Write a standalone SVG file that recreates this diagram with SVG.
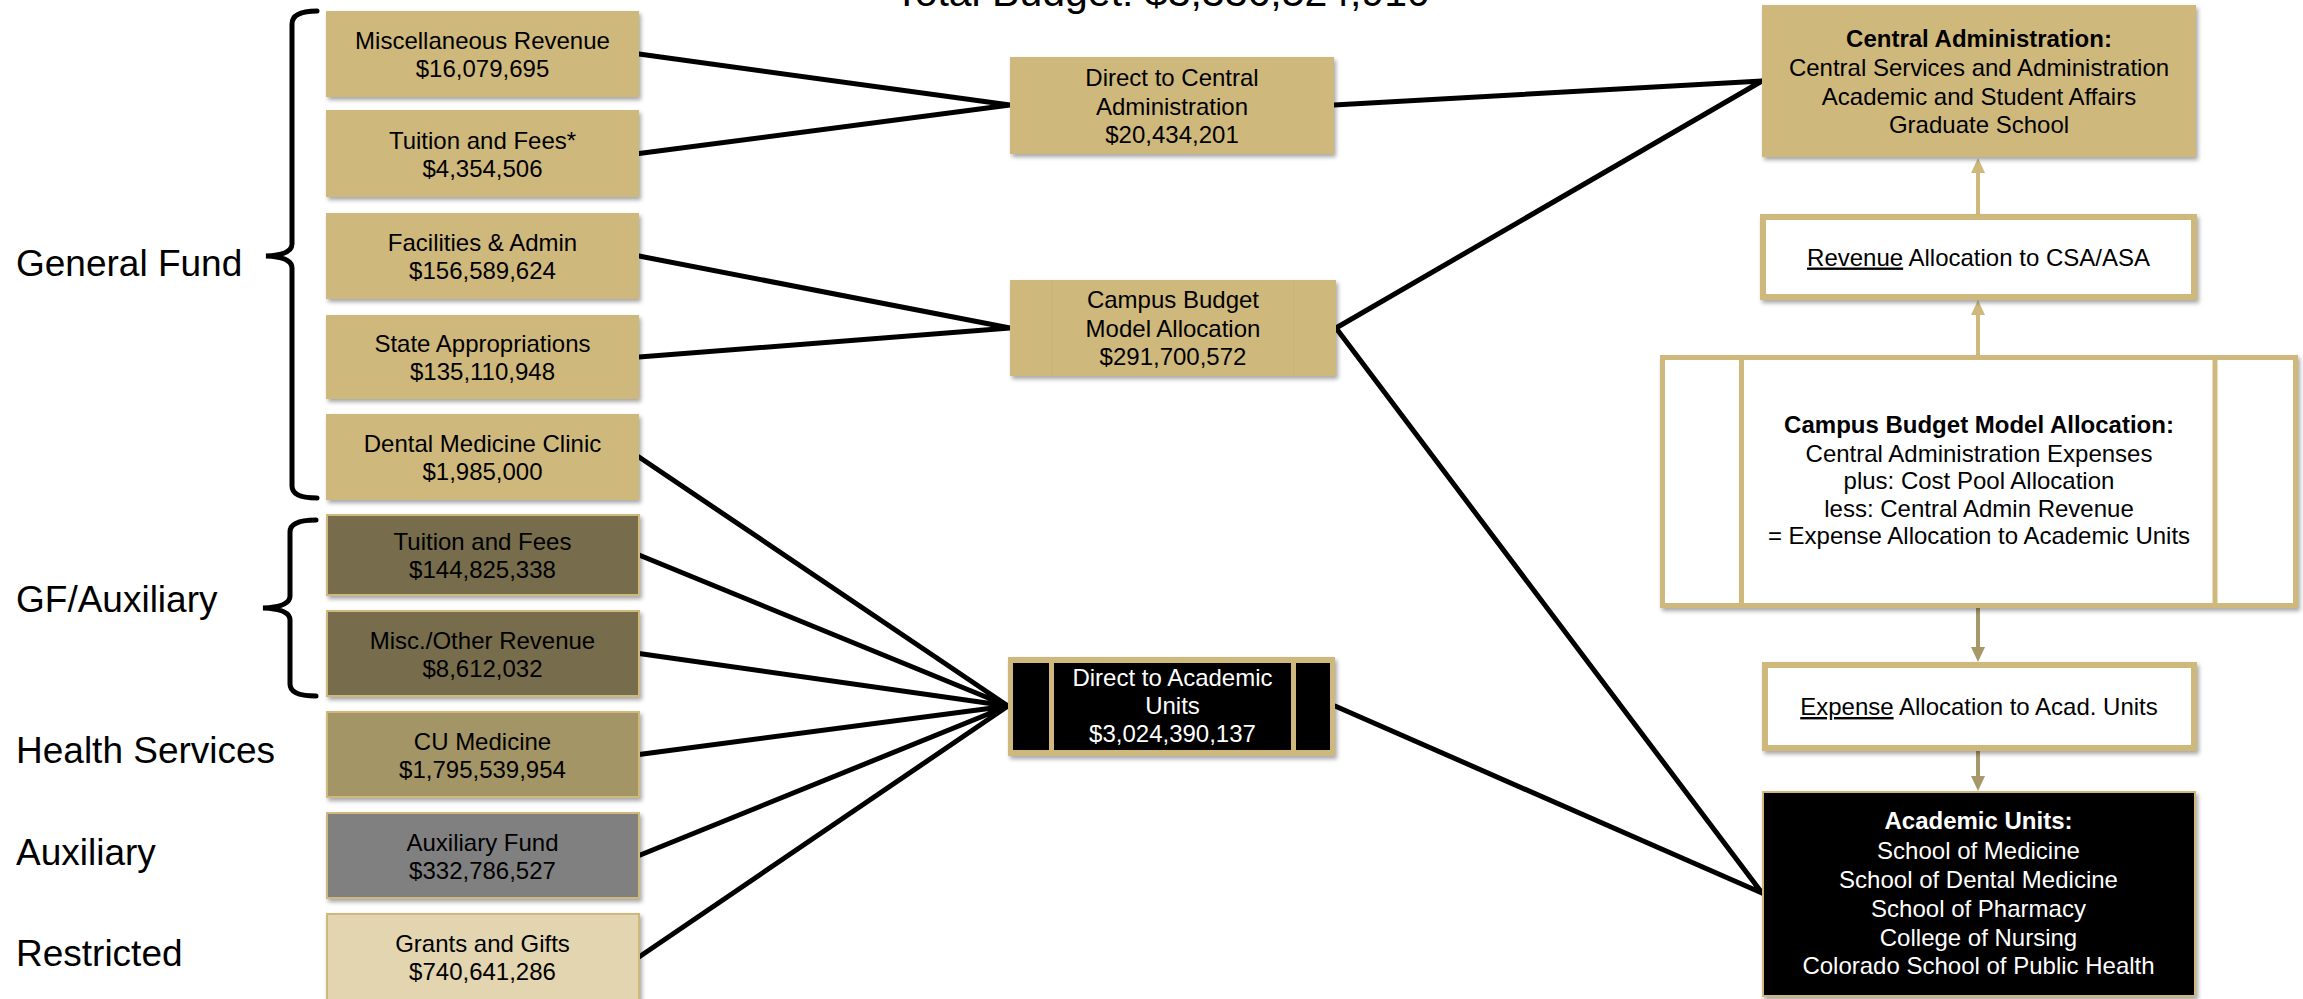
<svg xmlns="http://www.w3.org/2000/svg" width="2303" height="999" viewBox="0 0 2303 999">
<style>
text{font-family:"Liberation Sans",Arial,sans-serif;fill:#000}
.lbl{font-size:37px}
.bt{font-size:24px;text-anchor:middle}
.w{fill:#fff}
.b{font-weight:bold}
.gold{fill:#CFB87C}
.dark{fill:#776C4B;stroke:#CFB87C;stroke-width:2}
.med{fill:#A39565;stroke:#CFB87C;stroke-width:2}
.gray{fill:#808080;stroke:#CFB87C;stroke-width:2}
.lt{fill:#E2D5AF;stroke:#CFB87C;stroke-width:2}
.frame{fill:#fff;stroke:#CFB87C;stroke-width:6}
.conn{stroke:#000;stroke-width:5;fill:none;stroke-linecap:round}
.brace{stroke:#000;stroke-width:5;fill:none;stroke-linecap:round}
.up{stroke:#CFB87C;stroke-width:4;fill:none}
.down{stroke:#A69868;stroke-width:4;fill:none}
</style>
<defs>
<filter id="sh" x="-5%" y="-5%" width="115%" height="125%">
<feDropShadow dx="2" dy="3" stdDeviation="2" flood-color="#000" flood-opacity="0.35"/>
</filter>
<marker id="ahL" markerUnits="userSpaceOnUse" markerWidth="15" markerHeight="14" refX="0" refY="7" orient="auto" viewBox="0 0 15 14"><path d="M0 0 L15 7 L0 14 Z" fill="#CFB87C"/></marker>
<marker id="ahD" markerUnits="userSpaceOnUse" markerWidth="15" markerHeight="14" refX="0" refY="7" orient="auto" viewBox="0 0 15 14"><path d="M0 0 L15 7 L0 14 Z" fill="#A69868"/></marker>
</defs>
<rect width="2303" height="999" fill="#fff"/>

<text x="1162" y="6" style="font-size:41px;text-anchor:middle">Total Budget: $3,336,524,910</text>

<g id="labels">
<text class="lbl" x="16" y="276">General Fund</text>
<text class="lbl" x="16" y="612">GF/Auxiliary</text>
<text class="lbl" x="16" y="763">Health Services</text>
<text class="lbl" x="16" y="865">Auxiliary</text>
<text class="lbl" x="16" y="966">Restricted</text>
<path class="brace" d="M317 11 Q292 11 292 24 L292 244 Q292 255 266 256 Q292 257 292 268 L292 486 Q292 498 317 498"/>
<path class="brace" d="M316 520 Q290 520 290 532 L290 596 Q290 607 263 608 Q290 609 290 620 L290 684 Q290 696 316 696"/>
</g>

<g id="connectors">
<path class="conn" d="M639 54 L1010 105 M639 153.5 L1010 105"/>
<path class="conn" d="M639 256 L1010 328 M639 357 L1010 328"/>
<path class="conn" d="M639 457 L1008 706 M639 555 L1008 706 M639 653.5 L1008 706 M639 754.5 L1008 706 M639 855.5 L1008 706 M639 957 L1008 706"/>
<path class="conn" d="M1334 105 L1762 81 M1336 328 L1762 81 M1336 328 L1762 893 M1335 706 L1762 893"/>
<path class="up" d="M1978 214 L1978 173" marker-end="url(#ahL)"/>
<path class="up" d="M1978 355 L1978 315" marker-end="url(#ahL)"/>
<path class="down" d="M1978 608 L1978 647" marker-end="url(#ahD)"/>
<path class="down" d="M1978 751 L1978 776" marker-end="url(#ahD)"/>
</g>

<g id="misc-revenue"><rect class="gold" x="326" y="11" width="313" height="86" filter="url(#sh)"/>
<text class="bt" x="482.5" y="49">Miscellaneous Revenue</text><text class="bt" x="482.5" y="77">$16,079,695</text></g>
<g id="tuition-gf"><rect class="gold" x="326" y="110" width="313" height="87" filter="url(#sh)"/>
<text class="bt" x="482.5" y="148.5">Tuition and Fees*</text><text class="bt" x="482.5" y="176.5">$4,354,506</text></g>
<g id="facilities"><rect class="gold" x="326" y="213" width="313" height="86" filter="url(#sh)"/>
<text class="bt" x="482.5" y="251">Facilities &amp; Admin</text><text class="bt" x="482.5" y="279">$156,589,624</text></g>
<g id="state"><rect class="gold" x="326" y="315" width="313" height="84" filter="url(#sh)"/>
<text class="bt" x="482.5" y="352">State Appropriations</text><text class="bt" x="482.5" y="380">$135,110,948</text></g>
<g id="dental"><rect class="gold" x="326" y="414" width="313" height="86" filter="url(#sh)"/>
<text class="bt" x="482.5" y="452">Dental Medicine Clinic</text><text class="bt" x="482.5" y="480">$1,985,000</text></g>
<g id="tuition-aux"><rect class="dark" x="327" y="515" width="312" height="80" filter="url(#sh)"/>
<text class="bt" x="482.5" y="550">Tuition and Fees</text><text class="bt" x="482.5" y="578">$144,825,338</text></g>
<g id="misc-other"><rect class="dark" x="327" y="611" width="312" height="85" filter="url(#sh)"/>
<text class="bt" x="482.5" y="648.5">Misc./Other Revenue</text><text class="bt" x="482.5" y="676.5">$8,612,032</text></g>
<g id="cu-medicine"><rect class="med" x="327" y="712" width="312" height="85" filter="url(#sh)"/>
<text class="bt" x="482.5" y="749.5">CU Medicine</text><text class="bt" x="482.5" y="777.5">$1,795,539,954</text></g>
<g id="aux-fund"><rect class="gray" x="327" y="813" width="312" height="85" filter="url(#sh)"/>
<text class="bt" x="482.5" y="850.5">Auxiliary Fund</text><text class="bt" x="482.5" y="878.5">$332,786,527</text></g>
<g id="grants"><rect class="lt" x="327" y="914" width="312" height="95" filter="url(#sh)"/>
<text class="bt" x="482.5" y="952">Grants and Gifts</text><text class="bt" x="482.5" y="980">$740,641,286</text></g>

<g id="direct-central"><rect class="gold" x="1010" y="57" width="324" height="97" filter="url(#sh)"/>
<text class="bt" x="1172" y="86">Direct to Central</text><text class="bt" x="1172" y="114.5">Administration</text><text class="bt" x="1172" y="143">$20,434,201</text></g>
<g id="cbm-small"><rect class="gold" x="1010" y="280" width="326" height="96" filter="url(#sh)"/>
<line x1="1052" y1="280" x2="1052" y2="376" stroke="#C6B077" stroke-width="1" opacity="0.6"/><line x1="1294" y1="280" x2="1294" y2="376" stroke="#C6B077" stroke-width="1" opacity="0.6"/>
<text class="bt" x="1173" y="307.5">Campus Budget</text><text class="bt" x="1173" y="336.5">Model Allocation</text><text class="bt" x="1173" y="365">$291,700,572</text></g>
<g id="direct-academic"><rect class="gold" x="1008" y="657" width="327" height="99" filter="url(#sh)"/>
<rect x="1013" y="663" width="36" height="87" fill="#000"/><rect x="1054" y="663" width="237" height="87" fill="#000"/><rect x="1296" y="663" width="34" height="87" fill="#000"/>
<text class="bt w" x="1172.5" y="686">Direct to Academic</text><text class="bt w" x="1172.5" y="713.5">Units</text><text class="bt w" x="1172.5" y="741.5">$3,024,390,137</text></g>

<g id="central-admin"><rect class="gold" x="1762" y="5" width="434" height="152" filter="url(#sh)"/>
<text class="bt b" x="1979" y="47">Central Administration:</text><text class="bt" x="1979" y="76">Central Services and Administration</text><text class="bt" x="1979" y="104.5">Academic and Student Affairs</text><text class="bt" x="1979" y="133">Graduate School</text></g>
<g id="revenue-alloc"><rect class="frame" x="1763" y="217" width="431" height="80" filter="url(#sh)"/>
<text class="bt" x="1978.5" y="265.5"><tspan style="text-decoration:underline">Revenue</tspan> Allocation to CSA/ASA</text></g>
<g id="cbm-big"><rect x="1662.5" y="357.5" width="633" height="248" fill="#fff" stroke="#CFB87C" stroke-width="5" filter="url(#sh)"/>
<line x1="1741.5" y1="357.5" x2="1741.5" y2="605.5" stroke="#CFB87C" stroke-width="5"/><line x1="2215" y1="357.5" x2="2215" y2="605.5" stroke="#CFB87C" stroke-width="5"/>
<text class="bt b" x="1979" y="433">Campus Budget Model Allocation:</text><text class="bt" x="1979" y="461.5">Central Administration Expenses</text><text class="bt" x="1979" y="489">plus: Cost Pool Allocation</text><text class="bt" x="1979" y="516.5">less: Central Admin Revenue</text><text class="bt" x="1979" y="544">= Expense Allocation to Academic Units</text></g>
<g id="expense-alloc"><rect class="frame" x="1765" y="665" width="429" height="83" filter="url(#sh)"/>
<text class="bt" x="1979" y="715"><tspan style="text-decoration:underline">Expense</tspan> Allocation to Acad. Units</text></g>
<g id="academic-units"><rect x="1763" y="792" width="432" height="204" fill="#000" stroke="#CFB87C" stroke-width="2" filter="url(#sh)"/>
<text class="bt b w" x="1978.5" y="829">Academic Units:</text><text class="bt w" x="1978.5" y="858.5">School of Medicine</text><text class="bt w" x="1978.5" y="887.5">School of Dental Medicine</text><text class="bt w" x="1978.5" y="916.5">School of Pharmacy</text><text class="bt w" x="1978.5" y="945.5">College of Nursing</text><text class="bt w" x="1978.5" y="974">Colorado School of Public Health</text></g>
</svg>
